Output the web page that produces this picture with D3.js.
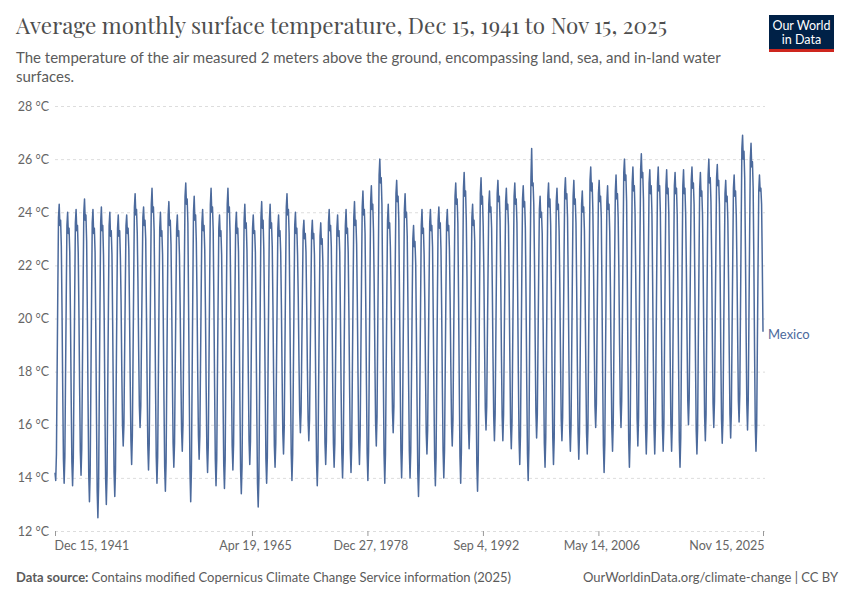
<!DOCTYPE html>
<html><head><meta charset="utf-8">
<script src="https://cdn.jsdelivr.net/npm/d3@7"></script>
<style>body{margin:0;background:#fff} svg{display:block}</style>
</head><body>
<svg id="chart" width="850" height="600"></svg>
<script>
const seriesName = "Mexico";
const startDate = "1941-12-15";
// Monthly values (°C), Dec 1941 then Jan..Dec per year, ending Nov 2025
const temperatures = [
14.2,
13.9,14.9,17.8,21.0,23.8,24.3,23.5,23.7,22.7,20.3,17.3,14.7,
13.8,14.8,17.7,20.7,23.5,24.0,23.2,23.4,22.5,20.1,17.1,14.6,
13.7,14.7,17.6,20.8,23.6,24.1,23.3,23.5,22.5,20.3,17.4,15.0,
14.1,15.1,18.0,21.2,24.0,24.5,23.7,23.9,22.9,20.2,16.9,14.1,
13.1,14.2,17.3,20.6,23.6,24.1,23.2,23.4,22.5,19.7,16.3,13.5,
12.5,13.7,17.0,20.5,23.6,24.2,23.3,23.5,22.4,20.0,16.7,14.0,
13.0,14.1,17.2,20.5,23.5,24.0,23.1,23.3,22.4,19.9,16.8,14.2,
13.3,14.3,17.3,20.5,23.4,23.9,23.1,23.3,22.3,20.6,18.0,16.0,
15.2,16.0,18.5,21.1,23.5,23.9,23.2,23.4,22.6,20.3,17.6,15.4,
14.5,15.6,18.4,21.5,24.2,24.7,23.9,24.1,23.2,21.4,18.8,16.7,
15.9,16.7,19.1,21.5,23.8,24.2,23.5,23.7,23.0,20.4,17.6,15.2,
14.3,15.3,18.3,21.5,24.3,24.9,24.0,24.2,23.3,20.6,17.4,14.8,
13.8,14.8,17.6,20.7,23.4,24.0,23.1,23.3,22.4,20.0,16.9,14.4,
13.5,14.6,17.6,20.9,23.9,24.4,23.5,23.7,22.8,20.6,17.7,15.3,
14.4,15.3,18.0,20.8,23.4,23.9,23.1,23.3,22.4,20.5,18.0,15.8,
15.0,16.0,18.9,21.9,24.6,25.1,24.3,24.5,23.6,20.5,17.1,14.2,
13.1,14.3,17.5,20.9,24.0,24.6,23.7,23.9,22.9,20.8,17.9,15.6,
14.7,15.6,18.2,21.1,23.6,24.1,23.3,23.5,22.6,20.3,17.4,15.1,
14.2,15.2,18.2,21.4,24.3,24.9,24.0,24.2,23.3,20.6,17.4,14.7,
13.7,14.7,17.6,20.6,23.4,23.9,23.1,23.3,22.4,20.0,17.0,14.5,
13.6,14.7,17.9,21.3,24.3,24.9,24.0,24.2,23.2,20.8,17.8,15.2,
14.3,15.3,18.0,20.9,23.5,24.0,23.2,23.4,22.5,20.0,16.9,14.3,
13.4,14.4,17.5,20.8,23.7,24.3,23.4,23.6,22.6,20.5,17.7,15.4,
14.5,15.4,18.1,20.9,23.4,23.9,23.2,23.3,22.5,19.7,16.5,13.8,
12.9,14.0,17.2,20.7,23.8,24.4,23.4,23.7,22.6,20.3,17.3,14.7,
13.8,14.8,17.8,20.9,23.7,24.3,23.4,23.6,22.7,20.5,17.6,15.2,
14.4,15.3,18.0,20.8,23.4,23.9,23.1,23.3,22.5,20.5,17.9,15.7,
14.9,15.9,18.6,21.6,24.2,24.7,23.9,24.1,23.2,20.6,17.5,14.9,
13.9,14.9,17.7,20.7,23.5,24.0,23.2,23.4,22.4,20.8,18.4,16.5,
15.7,16.5,18.7,21.1,23.3,23.7,23.0,23.2,22.5,20.5,18.1,16.2,
15.4,16.2,18.5,21.0,23.2,23.7,23.0,23.2,22.4,19.9,17.0,14.6,
13.7,14.7,17.5,20.4,23.1,23.6,22.8,23.0,22.1,20.1,17.5,15.3,
14.5,15.4,18.1,21.0,23.6,24.1,23.3,23.5,22.7,20.4,17.6,15.3,
14.4,15.3,18.0,20.9,23.4,23.9,23.1,23.3,22.5,20.1,17.2,14.9,
14.0,15.0,17.8,20.8,23.5,24.1,23.2,23.4,22.5,20.3,17.4,15.1,
14.2,15.2,18.0,21.1,23.8,24.4,23.5,23.7,22.8,20.6,17.8,15.4,
14.5,15.6,18.4,21.5,24.2,24.8,23.9,24.1,23.2,20.6,17.5,14.9,
13.9,15.0,18.1,21.4,24.4,25.0,24.1,24.3,23.3,21.3,18.5,16.1,
15.2,16.3,19.3,22.5,25.4,26.0,25.1,25.3,24.3,21.3,17.8,14.9,
13.8,14.9,17.8,20.9,23.7,24.3,23.4,23.6,22.7,21.0,18.5,16.5,
15.7,16.7,19.3,22.1,24.7,25.2,24.4,24.6,23.7,20.9,17.7,15.0,
14.0,15.1,18.1,21.3,24.1,24.7,23.8,24.0,23.1,20.6,17.5,15.0,
14.0,15.0,17.6,20.5,23.0,23.5,22.7,22.9,22.1,19.6,16.7,14.2,
13.3,14.4,17.4,20.6,23.5,24.1,23.2,23.4,22.4,20.6,17.9,15.7,
14.9,15.8,18.4,21.1,23.6,24.1,23.3,23.5,22.7,20.1,17.1,14.7,
13.7,14.8,17.7,20.9,23.7,24.2,23.4,23.6,22.6,20.3,17.4,15.0,
14.0,15.0,17.9,20.9,23.6,24.1,23.3,23.5,22.6,20.7,18.2,16.0,
15.2,16.2,19.0,21.9,24.6,25.1,24.3,24.5,23.6,20.8,17.5,14.8,
13.8,15.0,18.2,21.8,24.9,25.5,24.6,24.8,23.7,21.6,18.5,16.0,
15.1,16.0,18.6,21.3,23.8,24.3,23.5,23.7,22.9,20.2,17.1,14.5,
13.5,14.7,18.0,21.5,24.7,25.3,24.3,24.6,23.5,21.7,18.9,16.6,
15.8,16.7,19.2,21.9,24.3,24.8,24.0,24.2,23.4,21.2,18.5,16.3,
15.4,16.4,19.1,22.0,24.7,25.2,24.4,24.6,23.7,21.5,18.6,16.3,
15.4,16.4,19.0,21.9,24.4,24.9,24.1,24.3,23.5,21.2,18.4,16.0,
15.1,16.1,18.9,21.9,24.6,25.1,24.3,24.5,23.6,21.1,18.0,15.5,
14.5,15.6,18.5,21.7,24.5,25.0,24.2,24.4,23.4,20.8,17.5,14.9,
13.9,15.1,18.6,22.4,25.3,26.4,25.0,25.1,24.3,22.2,19.1,16.5,
15.5,16.4,18.9,21.7,24.1,24.6,23.8,24.0,23.2,20.7,17.8,15.3,
14.4,15.5,18.5,21.7,24.6,25.1,24.2,24.5,23.5,21.1,18.0,15.5,
14.5,15.5,18.5,21.6,24.4,24.9,24.1,24.3,23.3,21.3,18.5,16.2,
15.4,16.3,19.1,22.1,24.8,25.3,24.5,24.7,23.8,21.4,18.4,15.9,
15.0,16.0,18.8,21.9,24.6,25.2,24.3,24.5,23.6,21.2,18.2,15.7,
14.7,15.7,18.5,21.5,24.3,24.8,24.0,24.2,23.3,21.0,18.1,15.7,
14.9,15.9,19.0,22.2,25.2,25.7,24.8,25.1,24.1,22.0,19.1,16.7,
15.9,16.8,19.4,22.2,24.7,25.2,24.4,24.6,23.8,21.0,17.8,15.2,
14.2,15.3,18.3,21.5,24.4,25.0,24.1,24.3,23.3,21.2,18.3,15.9,
15.0,16.1,19.0,22.1,24.8,25.4,24.5,24.7,23.8,21.8,19.0,16.8,
15.9,16.9,19.7,22.7,25.5,26.0,25.2,25.4,24.4,21.5,18.2,15.4,
14.4,15.5,18.6,22.0,25.1,25.7,24.8,25.0,24.0,21.7,18.7,16.2,
15.2,16.3,19.4,22.7,25.6,26.2,25.3,25.5,24.5,21.9,18.6,15.9,
14.9,15.9,18.9,22.2,25.1,25.6,24.7,25.0,24.0,21.5,18.4,15.9,
14.9,16.0,19.0,22.2,25.1,25.7,24.8,25.0,24.0,21.6,18.5,15.9,
15.0,16.0,19.0,22.2,25.0,25.6,24.7,24.9,24.0,21.6,18.5,16.0,
15.0,16.1,19.0,22.2,25.0,25.5,24.7,24.9,23.9,21.3,18.1,15.4,
14.4,15.5,18.6,22.0,25.0,25.6,24.7,24.9,23.9,21.9,19.2,16.9,
16.0,17.0,19.7,22.6,25.2,25.7,24.9,25.1,24.3,21.6,18.4,15.8,
14.9,15.9,18.9,22.1,24.9,25.5,24.6,24.8,23.9,21.6,18.7,16.3,
15.4,16.4,19.4,22.6,25.4,26.0,25.1,25.3,24.4,22.2,19.2,16.8,
15.9,16.9,19.7,22.6,25.3,25.8,25.0,25.2,24.3,21.8,18.7,16.2,
15.3,16.2,19.0,22.0,24.7,25.2,24.4,24.6,23.7,21.5,18.7,16.4,
15.5,16.5,19.3,22.2,24.9,25.4,24.6,24.8,23.9,21.9,19.2,16.9,
16.1,17.2,20.2,23.4,26.4,26.9,26.0,26.3,25.3,22.7,19.5,16.8,
15.8,16.9,19.9,23.1,26.0,26.6,25.7,25.9,24.9,22.2,18.8,16.0,
15.0,16.0,18.9,22.0,24.8,25.4,24.8,24.9,24.3,22.1,19.5
];
const yTicks = [12, 14, 16, 18, 20, 22, 24, 26, 28];
const xTickDates = ["1941-12-15", "1965-04-19", "1978-12-27", "1992-09-04", "2006-05-14", "2025-11-15"];
const xTickLabels = ["Dec 15, 1941", "Apr 19, 1965", "Dec 27, 1978", "Sep 4, 1992", "May 14, 2006", "Nov 15, 2025"];

(function () {
const svg = d3.select("#chart");
const parse = d3.timeParse("%Y-%m-%d");
const start = parse(startDate);
const data = temperatures.map((v, i) => ({
  date: new Date(start.getFullYear(), start.getMonth() + i, 15),
  value: v
}));

const m = { left: 55, right: 763, top: 106, bottom: 531 };
const x = d3.scaleTime().domain(d3.extent(data, d => d.date)).range([m.left, m.right]);
const y = d3.scaleLinear().domain([12, 28]).range([m.bottom, m.top]);

const sans = "Lato, 'Noto Sans', sans-serif";

// Title & subtitle
svg.append("text").attr("x", 16).attr("y", 34)
  .attr("font-family", "'Playfair Display', 'Liberation Serif', serif")
  .attr("font-size", 22.4).attr("fill", "#4e4e4e")
  .text("Average monthly surface temperature, Dec 15, 1941 to Nov 15, 2025");
const sub = svg.append("text").attr("font-family", sans).attr("font-size", 15).attr("fill", "#5b5b5b");
sub.append("tspan").attr("x", 16).attr("y", 63)
  .text("The temperature of the air measured 2 meters above the ground, encompassing land, sea, and in-land water");
sub.append("tspan").attr("x", 16).attr("y", 82).text("surfaces.");

// Logo
const logo = svg.append("g");
logo.append("rect").attr("x", 769).attr("y", 15).attr("width", 65).attr("height", 37).attr("fill", "#002147");
logo.append("rect").attr("x", 769).attr("y", 49).attr("width", 65).attr("height", 3).attr("fill", "#ce261e");
logo.append("text").attr("x", 801.5).attr("y", 30).attr("text-anchor", "middle")
  .attr("font-family", sans).attr("font-size", 12.5).attr("fill", "#fff").text("Our World");
logo.append("text").attr("x", 801.5).attr("y", 44).attr("text-anchor", "middle")
  .attr("font-family", sans).attr("font-size", 12.5).attr("fill", "#fff").text("in Data");

// Y grid + labels
const yAxis = d3.axisLeft(y).tickValues(yTicks).tickSize(-(m.right + 2 - m.left)).tickFormat(d => d + " °C");
const gy = svg.append("g").attr("transform", `translate(${m.left},0)`).call(yAxis);
gy.select(".domain").remove();
gy.selectAll(".tick line").attr("stroke", "#dddddd").attr("stroke-dasharray", "3,3");
gy.selectAll(".tick text").attr("x", -6).attr("font-family", sans).attr("font-size", 12.5).attr("fill", "#666");

// X ticks + labels
const tickDates = xTickDates.map(parse);
const xAxis = d3.axisBottom(x).tickValues(tickDates).tickSize(5).tickFormat((d, i) => xTickLabels[i]);
const gx = svg.append("g").attr("transform", `translate(0,${m.bottom})`).call(xAxis);
gx.select(".domain").remove();
gx.selectAll(".tick line").attr("stroke", "#999");
gx.selectAll(".tick text").attr("y", 10).attr("font-family", sans).attr("font-size", 12.5).attr("fill", "#666")
  .attr("text-anchor", (d, i) => i === 0 ? "start" : (i === xTickLabels.length - 1 ? "end" : "middle"))
  .attr("dx", (d, i) => i === 0 ? -1 : (i === xTickLabels.length - 1 ? 1 : 3));

// Line
const line = d3.line().x(d => x(d.date)).y(d => y(d.value));
svg.append("path").datum(data).attr("d", line)
  .attr("fill", "none").attr("stroke", "#4c6a9c").attr("stroke-width", 1.5).attr("stroke-linejoin", "round");

// Series label
const last = data[data.length - 1];
svg.append("text").attr("x", m.right + 5).attr("y", y(last.value) + 3).attr("dy", "0.35em")
  .attr("font-family", sans).attr("font-size", 13).attr("fill", "#4c6a9c").text(seriesName);

// Footer
const foot = svg.append("text").attr("x", 16).attr("y", 582).attr("font-family", sans).attr("font-size", 13).attr("fill", "#5b5b5b");
foot.append("tspan").attr("font-weight", "bold").text("Data source: ");
foot.append("tspan").text("Contains modified Copernicus Climate Change Service information (2025)");
svg.append("text").attr("x", 838).attr("y", 582).attr("text-anchor", "end").attr("font-family", sans)
  .attr("font-size", 13).attr("fill", "#5b5b5b").text("OurWorldinData.org/climate-change | CC BY");
})();
</script>
</body></html>
